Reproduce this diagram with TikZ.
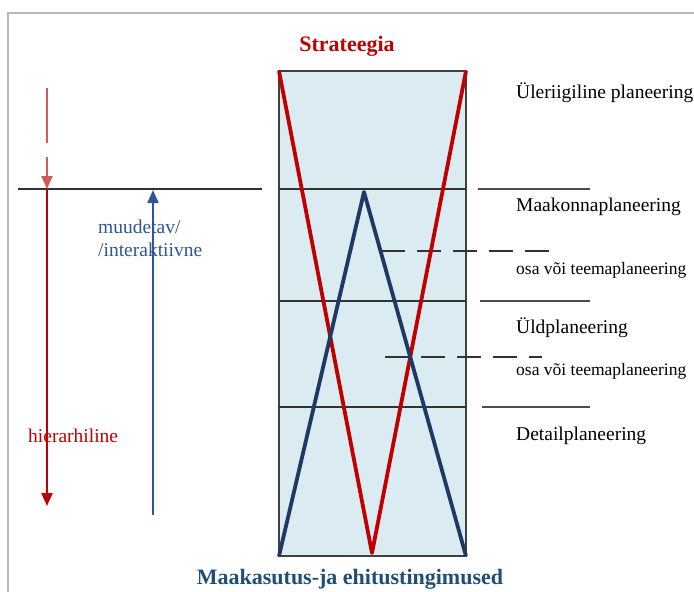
\documentclass[tikz,border=0pt]{standalone}
\usepackage{fontspec}
\setmainfont{Liberation Serif}
\usepackage{xcolor}
\usetikzlibrary{positioning, arrows.meta}
\definecolor{punane}{HTML}{C00000}
\definecolor{tumesinine}{HTML}{1F3864}
\definecolor{sinine}{HTML}{2F5597}
\definecolor{pealkirisinine}{HTML}{1F4E79}
\definecolor{helesinine}{HTML}{DAEBF2}

\begin{document}
\begin{tikzpicture}[x=1pt, y=-1pt, >={Triangle[length=13pt,width=11pt]},
  tase/.style = {anchor=west, inner sep=0pt, font=\fontsize{19.5}{23}\selectfont},
  osa/.style = {anchor=west, inner sep=0pt, font=\fontsize{17.5}{20}\selectfont},
  pealkiri/.style = {inner sep=0pt, font=\fontsize{22}{24}\selectfont\bfseries},
  piir/.style = {draw=black!80, line width=1.6pt},
  kriips/.style = {draw=black!70, line width=1.3pt},
  katkend/.style = {draw=black!80, line width=1.3pt, dash pattern=on 24pt off 12pt}]
\useasboundingbox (0,0) rectangle (694,592);
\draw[gray!55, line width=2.5pt] (8,592) -- (8,13) -- (694,13);

% kast
\coordinate (kv) at (279,71);
\coordinate (kp) at (466,71);
\coordinate (av) at (279,556);
\coordinate (ap) at (466,556);
\filldraw[fill=helesinine, draw=black!75, line width=2.4pt] (kv) rectangle (ap);

% tasandid
\coordinate (t1v) at (279,189);  \coordinate (t1p) at (466,189);
\coordinate (t2v) at (279,301);  \coordinate (t2p) at (466,301);
\coordinate (t3v) at (279,407);  \coordinate (t3p) at (466,407);
\draw[piir] (t1v) -- (t1p);
\draw[piir] (t2v) -- (t2p);
\draw[piir] (t3v) -- (t3p);
\coordinate (vasak1) at (18,189);  \coordinate (vasak2) at (262,189);
\draw[piir] (vasak1) -- (vasak2);
\coordinate (p1a) at (478,189);  \coordinate (p1b) at (590,189);
\coordinate (p2a) at (480,301);  \coordinate (p2b) at (590,301);
\coordinate (p3a) at (482,407);  \coordinate (p3b) at (590,407);
\draw[kriips] (p1a) -- (p1b);
\draw[kriips] (p2a) -- (p2b);
\draw[kriips] (p3a) -- (p3b);
\coordinate (k1a) at (381,251);  \coordinate (k1b) at (552,251);
\coordinate (k2a) at (385,357);  \coordinate (k2b) at (542,357);
\draw[katkend] (k1a) -- (k1b);
\draw[katkend] (k2a) -- (k2b);

% risti jooned
\coordinate (punanetipp) at (372,553);
\coordinate (sininetipp) at (364,192);
\draw[punane, line width=3.8pt, line join=round] (kv) -- (punanetipp) -- (kp);
\draw[tumesinine, line width=3.8pt, line join=round] (av) -- (sininetipp) -- (ap);

% nooled
\coordinate (h0) at (47,88);
\coordinate (h1) at (47,189);
\coordinate (h2) at (47,506);
\coordinate (m0) at (153,515);
\coordinate (m1) at (153,190);
\draw[punane!65, line width=2pt, dash pattern=on 55pt off 14pt, ->] (h0) -- (h1);
\draw[punane, line width=2pt, ->] (h1) -- (h2);
\draw[sinine, line width=1.8pt, ->] (m0) -- (m1);

% tekstid
\node[pealkiri, text=punane] (strateegia) at (347,46) {Strateegia};
\node[pealkiri, text=pealkirisinine] (maakasutus) at (350,579) {Maakasutus-ja ehitustingimused};
\node[tase] (yleriigiline) at (516,93) {Üleriigiline planeering};
\node[tase] (maakond) at (516,207) {Maakonnaplaneering};
\node[osa] (osa1) at (516,270) {osa või teemaplaneering};
\node[tase] (yld) at (516,328) {Üldplaneering};
\node[osa] (osa2) at (516,371) {osa või teemaplaneering};
\node[tase] (detail) at (516,436) {Detailplaneering};
\node[tase, text=sinine, align=left] (muudetav) at (98,238) {muudetav/\\/interaktiivne};
\node[tase, text=punane] (hierarhiline) at (28,436) {hierarhiline};
\end{tikzpicture}
\end{document}
